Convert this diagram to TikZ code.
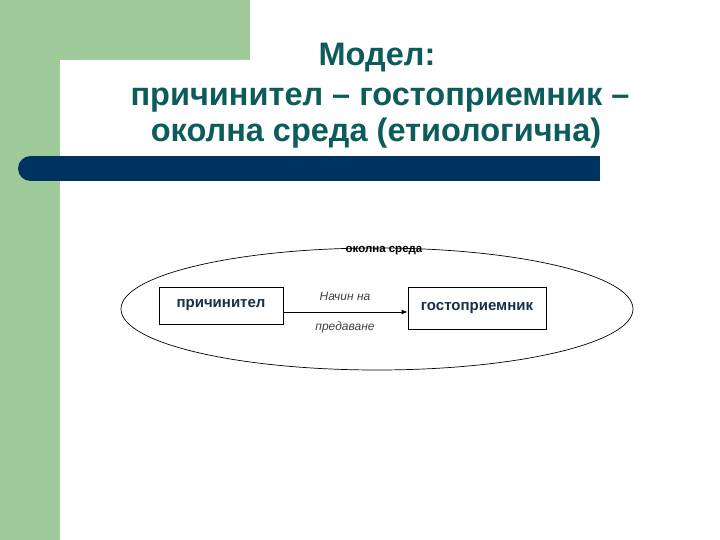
\documentclass[tikz,border=0pt]{standalone}
\usepackage{fontspec}
\setmainfont{Liberation Sans}
\usetikzlibrary{arrows.meta}
\definecolor{bggreen}{HTML}{9FCB9B}
\definecolor{barblue}{HTML}{00325F}
\definecolor{titleteal}{HTML}{0D5C5C}
\definecolor{boxtext}{HTML}{1A2E48}
\tikzset{
  box/.style={draw=black, line width=0.8pt, fill=white, text=boxtext, font=\bfseries\fontsize{15}{17}\selectfont, inner sep=0pt},
  title/.style={text=titleteal, font=\bfseries\fontsize{32.5}{38}\selectfont, align=center},
  lbl/.style={font=\itshape\fontsize{12}{14}\selectfont, text=black!75},
}
\begin{document}
\begin{tikzpicture}[x=1pt,y=-1pt]
\useasboundingbox (0,0) rectangle (720,540);
\fill[white] (0,0) rectangle (720,540);
\fill[bggreen] (0,0) rectangle (250,60);
\fill[bggreen] (0,0) rectangle (60,540);
\fill[white, rounded corners=20pt] (60,560) -- (60,60) -- (740,60) -- (740,560) -- cycle;
\fill[barblue] (30.5,156) rectangle (600,181);
\fill[barblue] (30.5,168.5) circle[radius=12.5];
\node[title] (t1) at (377,58) {Модел:};
\node[title] (t2) at (380,100) {причинител – гостоприемник –};
\node[title] (t3) at (376,133) {околна среда (етиологична)};
\draw[line width=0.7pt] (377,309) ellipse[x radius=256, y radius=61];
\node[font=\bfseries\fontsize{11.5}{13}\selectfont, text=black] (env) at (384,251) {околна среда};
\node[box, minimum width=124, minimum height=37] (b1) at (221,305.5) {причинител};
\node[box, minimum width=138, minimum height=42] (b2) at (477,308) {гостоприемник};
\draw[line width=0.8pt, -{Latex[length=6pt,width=5pt]}] (b1.east |- 0,312) coordinate (s) -- (b2.west |- 0,312);
\node[lbl] (l1) at (345,296) {Начин на};
\node[lbl] (l2) at (345,327) {предаване};
\end{tikzpicture}
\end{document}
